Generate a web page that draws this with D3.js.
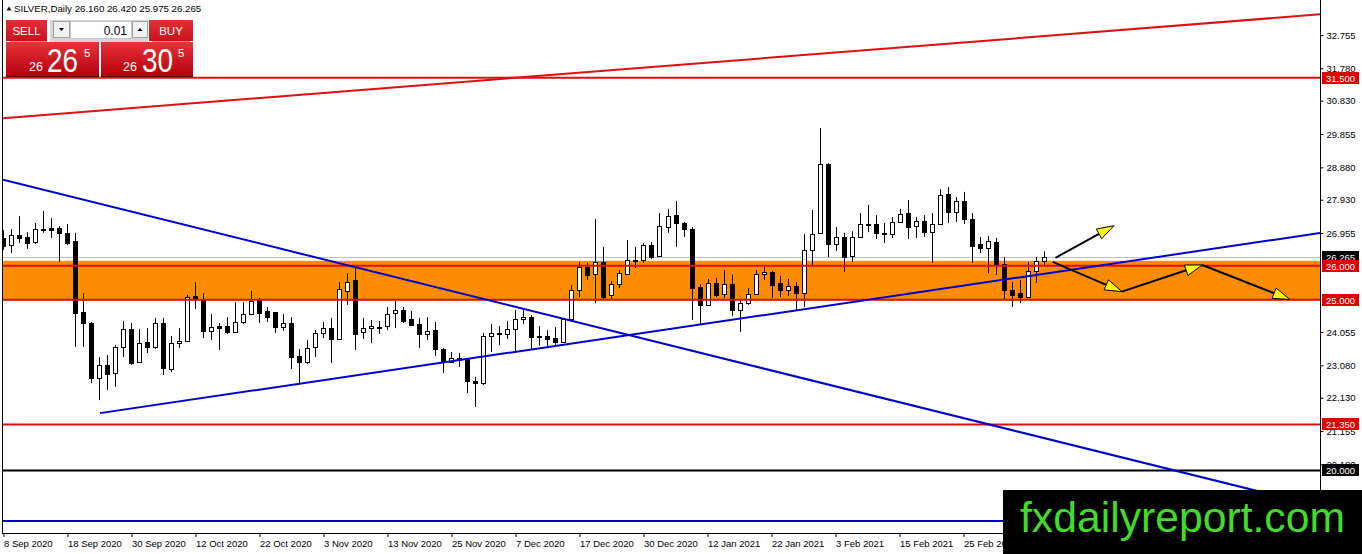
<!DOCTYPE html>
<html><head><meta charset="utf-8">
<script src="https://cdn.jsdelivr.net/npm/d3@7"></script>
<style>
html,body{margin:0;padding:0;background:#fff;overflow:hidden}
svg{display:block}
text{font-family:"Liberation Sans",Arial,sans-serif}
</style></head><body>
<svg id="c" width="1362" height="554"></svg>
<script>
// ---------- DATA ----------
const open=[
26.81,26.60,26.90,26.84,26.69,27.05,27.10,27.10,26.96,26.72,
24.64,24.32,22.71,23.09,22.85,23.62,24.14,23.18,23.76,23.62,
24.32,22.97,23.73,23.79,25.11,25.02,24.08,24.23,24.23,24.06,
24.35,24.58,25.02,24.67,24.64,24.20,24.32,23.35,23.18,23.62,
24.03,24.17,23.85,25.26,25.58,24.06,24.17,24.20,24.23,24.61,
24.70,24.44,24.29,24.00,24.11,23.56,23.18,23.24,23.27,22.62,
22.56,23.94,24.03,24.00,24.14,24.44,24.50,23.94,23.94,23.88,
23.76,24.44,25.29,25.96,25.75,26.11,25.14,25.46,25.75,26.14,
26.17,26.60,26.28,27.13,27.48,27.25,27.07,25.37,24.85,25.49,
25.17,25.46,24.70,24.90,25.17,25.75,25.81,25.49,25.29,25.40,
25.20,26.46,26.96,28.98,26.63,26.84,26.28,26.84,27.19,27.22,
26.96,26.93,27.28,27.54,27.16,27.31,26.98,27.22,28.10,27.57,
27.89,27.37,26.63,26.52,26.69,26.05,25.29,25.20,25.08,25.84,
26.160];
const high=[
27.04,27.07,27.45,26.98,27.25,27.60,27.39,27.16,27.22,26.96,
25.20,24.35,23.32,23.38,23.67,24.38,24.32,24.14,24.17,24.47,
24.47,23.94,24.17,25.14,25.52,25.20,24.58,24.32,24.49,24.93,
24.93,25.26,25.05,24.79,24.64,24.58,24.49,23.56,23.82,24.11,
24.35,24.47,25.52,25.78,25.93,24.47,24.41,24.38,24.79,24.96,
24.79,24.67,24.47,24.49,24.35,23.59,23.47,23.44,23.29,22.74,
24.03,24.29,24.23,24.38,24.70,24.76,24.55,24.23,24.11,24.20,
24.47,25.43,26.11,26.08,27.37,26.55,25.55,25.87,26.75,26.55,
26.66,26.69,27.54,27.66,27.89,27.28,27.13,25.46,25.61,25.64,
25.87,25.73,24.99,25.34,25.87,25.96,25.84,25.70,25.61,25.52,
26.93,27.63,30.03,29.00,27.13,26.96,27.01,27.54,27.78,27.48,
27.25,27.42,27.66,27.92,27.42,27.48,27.54,28.24,28.30,28.01,
28.16,27.54,26.84,26.87,26.81,26.25,25.52,25.58,26.11,26.25,
26.420];
const low=[
26.46,26.37,26.66,26.49,26.63,26.96,26.81,26.11,26.60,23.62,
23.62,22.56,22.06,22.36,22.45,23.32,23.09,23.15,23.44,23.56,
22.80,22.88,23.59,23.76,24.73,23.88,23.82,23.53,24.00,24.03,
24.29,24.55,24.32,24.35,24.03,24.09,22.97,22.53,23.12,23.32,
23.88,23.15,23.83,24.85,23.53,23.85,23.73,24.00,24.11,24.17,
24.32,24.23,23.59,23.82,23.35,22.85,23.15,23.03,22.27,21.86,
22.50,23.47,23.67,23.85,23.47,24.29,23.53,23.65,23.62,23.62,
23.74,24.41,25.08,25.58,24.90,25.02,25.02,25.34,25.73,25.93,
26.08,26.19,26.26,26.96,26.55,26.84,24.41,24.29,24.82,25.08,
25.05,24.52,24.06,24.85,25.14,25.58,25.05,25.08,25.11,24.70,
24.79,26.02,26.94,26.25,26.43,25.81,26.11,26.81,26.98,26.78,
26.66,26.81,27.25,26.78,26.81,26.84,26.08,27.20,27.25,27.28,
27.22,26.08,26.37,25.78,25.73,24.99,24.79,24.90,25.05,25.49,
25.975];
const close=[
26.57,26.90,26.81,26.66,27.07,27.07,27.04,26.96,26.66,24.61,
24.32,22.71,23.09,22.83,23.62,24.14,23.15,23.73,23.62,24.32,
23.00,23.73,23.79,25.08,25.02,24.08,24.20,24.17,24.06,24.35,
24.58,24.96,24.61,24.50,24.20,24.32,23.32,23.18,23.59,24.03,
24.17,23.85,25.32,25.52,24.00,24.17,24.23,24.17,24.58,24.70,
24.38,24.26,24.00,24.09,23.56,23.18,23.29,23.29,22.62,22.56,
23.94,24.03,24.00,24.14,24.44,24.50,23.91,23.91,23.85,23.76,
24.44,25.29,25.96,25.73,26.11,25.08,25.46,25.78,26.17,26.17,
26.60,26.25,27.16,27.45,27.25,27.07,25.34,24.85,25.49,25.14,
25.46,24.70,24.90,25.17,25.75,25.81,25.43,25.29,25.40,25.20,
26.46,26.93,28.98,26.63,26.84,26.25,26.84,27.22,27.22,26.96,
26.93,27.28,27.51,27.13,27.31,26.98,27.22,28.07,27.57,27.89,
27.37,26.57,26.52,26.72,26.05,25.29,25.14,25.08,25.84,26.14,
26.265];
const tickIndex=[0,8,16,24,32,40,48,56,64,72,80,88,96,104,112,120];
const tickLabels=["8 Sep 2020","18 Sep 2020","30 Sep 2020","12 Oct 2020","22 Oct 2020","3 Nov 2020","13 Nov 2020","25 Nov 2020","7 Dec 2020","17 Dec 2020","30 Dec 2020","12 Jan 2021","22 Jan 2021","3 Feb 2021","15 Feb 2021","25 Feb 2021"];
const priceTicks=[32.755,31.780,30.830,29.855,28.880,27.930,26.955,24.055,23.080,22.130,21.155,20.180];
const redLevels=[31.5,26.0,25.0,21.35];
const blackLevels=[20.0];
const blueLevels=[18.52];
const zone=[24.98,26.14];
const bid=26.265;
const headerName="SILVER,Daily";
const headerOHLC=[26.160,26.420,25.975,26.265];
const trendRed=[[0,30.32],[164.56,33.36]];
const trendBlueDown=[[0,28.51],[156.2,19.43]];
const trendBlueUp=[[12.06,21.68],[164.56,26.955]];
const arrows=[
  [[131.5,26.23],[138.8,27.17]],
  [[131.15,26.11],[139.8,25.24]],
  [[139.8,25.24],[149.85,26.02]],
  [[149.85,26.02],[160.8,25.01]]
];
const sellPrice=["26","26","5"];
const buyPrice=["26","30","5"];
const lotSize="0.01";
const watermark="fxdailyreport.com";

// ---------- SCALES ----------
const svg=d3.select("#c");
const X0=3, X1=1320, Y0=0, Y1=533;
const x=d3.scaleLinear().domain([-0.06,164.56]).range([X0,X1]);
const y=d3.scaleLinear().domain([18.169,33.78]).range([Y1,Y0]);
const RED="#dc1010", BLUE="#0000cd";

const defs=svg.append("defs");
defs.append("clipPath").attr("id","plot").append("rect").attr("x",X0).attr("y",Y0).attr("width",X1-X0).attr("height",Y1-Y0);
const pg=defs.append("linearGradient").attr("id","pg").attr("x1",0).attr("y1",0).attr("x2",0).attr("y2",1);
pg.append("stop").attr("offset","0%").attr("stop-color","#e8333a");
pg.append("stop").attr("offset","100%").attr("stop-color","#b4000c");
const bg=defs.append("linearGradient").attr("id","bg").attr("x1",0).attr("y1",0).attr("x2",0).attr("y2",1);
bg.append("stop").attr("offset","0%").attr("stop-color","#e23038");
bg.append("stop").attr("offset","100%").attr("stop-color","#c8121c");

const plot=svg.append("g").attr("clip-path","url(#plot)");

// zone
plot.append("rect").attr("x",X0).attr("width",X1-X0)
  .attr("y",y(zone[1])).attr("height",y(zone[0])-y(zone[1])).attr("fill","#ff8c00");
// bid line
plot.append("line").attr("x1",X0).attr("x2",X1).attr("y1",Math.round(y(bid))+0.5).attr("y2",Math.round(y(bid))+0.5)
  .attr("stroke","#c0c0c0").attr("stroke-width",1);

// candles
const idx=d3.range(open.length);
const cg=plot.append("g");
idx.forEach(i=>{
  const cx=Math.round(x(i));
  cg.append("line").attr("x1",cx+0.5).attr("x2",cx+0.5)
    .attr("y1",y(high[i])).attr("y2",y(low[i])).attr("stroke","#000").attr("stroke-width",1);
  const up=close[i]>=open[i];
  const top=y(Math.max(open[i],close[i])), bot=y(Math.min(open[i],close[i]));
  cg.append("rect").attr("x",cx-1.5).attr("width",4)
    .attr("y",Math.round(top)+0.5).attr("height",Math.max(1,Math.round(bot-top)))
    .attr("fill",up?"#fff":"#000").attr("stroke","#000").attr("stroke-width",1);
});

// horizontal levels
function hline(v,col,w){
  plot.append("line").attr("x1",X0).attr("x2",X1).attr("y1",y(v)).attr("y2",y(v)).attr("stroke",col).attr("stroke-width",w);
}
redLevels.forEach(v=>hline(v,RED,2));
blackLevels.forEach(v=>hline(v,"#000",2));
blueLevels.forEach(v=>hline(v,BLUE,2));

// trendlines (extended to plot edges as rays)
function extend(p,q,startAtP){
  const m=(q[1]-p[1])/(q[0]-p[0]);
  const d=x.domain();
  const a=startAtP?p[0]:d[0], b=d[1];
  return [[a,p[1]+m*(a-p[0])],[b,p[1]+m*(b-p[0])]];
}
const lineGen=d3.line().x(d=>x(d[0])).y(d=>y(d[1]));
plot.append("path").attr("d",lineGen(extend(trendRed[0],trendRed[1],false))).attr("stroke",RED).attr("stroke-width",2).attr("fill","none");
plot.append("path").attr("d",lineGen(extend(trendBlueDown[0],trendBlueDown[1],false))).attr("stroke",BLUE).attr("stroke-width",2).attr("fill","none");
plot.append("path").attr("d",lineGen(extend(trendBlueUp[0],trendBlueUp[1],true))).attr("stroke",BLUE).attr("stroke-width",2).attr("fill","none");

// arrows
arrows.forEach(a=>{
  const p0=[x(a[0][0]),y(a[0][1])], p1=[x(a[1][0]),y(a[1][1])];
  const dx=p1[0]-p0[0], dy=p1[1]-p0[1], L=Math.hypot(dx,dy), ux=dx/L, uy=dy/L;
  const len=17, w=5.5;
  const bx=p1[0]-ux*len, by=p1[1]-uy*len;
  plot.append("line").attr("x1",p0[0]).attr("y1",p0[1]).attr("x2",bx).attr("y2",by).attr("stroke","#000").attr("stroke-width",2);
  plot.append("path").attr("d",d3.line()([[p1[0],p1[1]],[bx-uy*w,by+ux*w],[bx+uy*w,by-ux*w]])+"Z")
    .attr("fill","#ffff00").attr("stroke","#000").attr("stroke-width",1);
});

// frame
svg.append("line").attr("x1",2.5).attr("x2",2.5).attr("y1",0).attr("y2",Y1+0.5).attr("stroke","#000");
svg.append("line").attr("x1",X1+0.5).attr("x2",X1+0.5).attr("y1",0).attr("y2",Y1+0.5).attr("stroke","#000");
svg.append("line").attr("x1",2).attr("x2",X1+1).attr("y1",Y1+0.5).attr("y2",Y1+0.5).attr("stroke","#000");

// right axis
const ya=svg.append("g").attr("transform",`translate(${X1+0.5},0)`)
  .call(d3.axisRight(y).tickValues(priceTicks).tickSize(3).tickPadding(3).tickFormat(d3.format(".3f")));
ya.select(".domain").remove();
ya.selectAll("text").attr("font-size","9.5px").attr("font-family","'Liberation Sans',Arial,sans-serif").attr("fill","#000");

// value boxes
function vbox(v,col){
  const yy=Math.round(y(v));
  svg.append("rect").attr("x",X1+2).attr("y",yy-6).attr("width",37).attr("height",12).attr("fill",col);
  svg.append("text").attr("x",X1+6).attr("y",yy+3.5).attr("font-size","9.5px").attr("fill","#fff").text(d3.format(".3f")(v));
}
vbox(bid,"#000");
redLevels.forEach(v=>vbox(v,"#e00000"));
blackLevels.forEach(v=>vbox(v,"#000"));

// bottom axis
const xa=svg.append("g").attr("transform",`translate(0,${Y1})`)
  .call(d3.axisBottom(x).tickValues(tickIndex).tickSize(4).tickPadding(3).tickFormat((d,i)=>tickLabels[i]));
xa.select(".domain").remove();
xa.selectAll("text").attr("font-size","9.5px").attr("font-family","'Liberation Sans',Arial,sans-serif").attr("text-anchor","start").attr("x",0).attr("fill","#000");

// header
svg.append("path").attr("d","M6.5,10.5 L9,6.5 L11.5,10.5 Z").attr("fill","#000");
svg.append("text").attr("x",14).attr("y",11.5).attr("font-size","9.7px").attr("fill","#000")
  .text(headerName+"  "+headerOHLC.map(d3.format(".3f")).join(" "));

// trading panel
const tp=svg.append("g");
tp.append("rect").attr("x",6).attr("y",20).attr("width",41).attr("height",21).attr("fill","url(#bg)");
tp.append("rect").attr("x",149).attr("y",20).attr("width",44).attr("height",21).attr("fill","url(#bg)");
tp.append("text").attr("x",26.5).attr("y",34.5).attr("text-anchor","middle").attr("font-size","11.5px").attr("fill","#fff").text("SELL");
tp.append("text").attr("x",171).attr("y",34.5).attr("text-anchor","middle").attr("font-size","11.5px").attr("fill","#fff").text("BUY");
tp.append("line").attr("x1",10).attr("x2",47).attr("y1",41.5).attr("y2",41.5).attr("stroke","#f08080");
tp.append("line").attr("x1",152).attr("x2",190).attr("y1",41.5).attr("y2",41.5).attr("stroke","#f08080");
// lot box
tp.append("rect").attr("x",50).attr("y",20).attr("width",98).attr("height",22).attr("fill","#d6d6d6");
tp.append("rect").attr("x",53.5).attr("y",21.5).attr("width",16).attr("height",16).attr("fill","#f2f2f2").attr("stroke","#a0a0a0");
tp.append("path").attr("d","M59,28 L64,28 L61.5,31 Z").attr("fill","#000");
tp.append("rect").attr("x",70.5).attr("y",21.5).attr("width",61).attr("height",17).attr("fill","#fff").attr("stroke","#c8c8c8");
tp.append("text").attr("x",127).attr("y",34.5).attr("text-anchor","end").attr("font-size","12px").attr("fill","#000").text(lotSize);
tp.append("rect").attr("x",132.5).attr("y",21.5).attr("width",15).attr("height",16).attr("fill","#f2f2f2").attr("stroke","#a0a0a0");
tp.append("path").attr("d","M137.5,31 L142.5,31 L140,28 Z").attr("fill","#000");
// price panels
function pricePanel(x0,w,p,xs,xb,xsup){
  tp.append("rect").attr("x",x0).attr("y",42).attr("width",w).attr("height",34).attr("fill","url(#pg)");
  tp.append("line").attr("x1",x0).attr("x2",x0+w).attr("y1",76.5).attr("y2",76.5).attr("stroke","#600");
  tp.append("text").attr("x",xs).attr("y",71).attr("font-size","12.5px").attr("fill","#fff").text(p[0]);
  tp.append("text").attr("x",xb).attr("y",72).attr("font-size","33px").attr("fill","#fff")
    .attr("textLength",31).attr("lengthAdjust","spacingAndGlyphs").text(p[1]);
  tp.append("text").attr("x",xsup).attr("y",57).attr("font-size","11.5px").attr("fill","#fff").text(p[2]);
}
pricePanel(6,93,sellPrice,29,47,84);
pricePanel(101,92,buyPrice,123,142,178);

// watermark
svg.append("rect").attr("x",1003).attr("y",490).attr("width",359).attr("height",64).attr("fill","#000");
svg.append("text").attr("x",1020).attr("y",532).attr("font-size","43px").attr("fill","#40dc28")
  .attr("textLength",325).attr("lengthAdjust","spacingAndGlyphs").text(watermark);
</script>
</body></html>
